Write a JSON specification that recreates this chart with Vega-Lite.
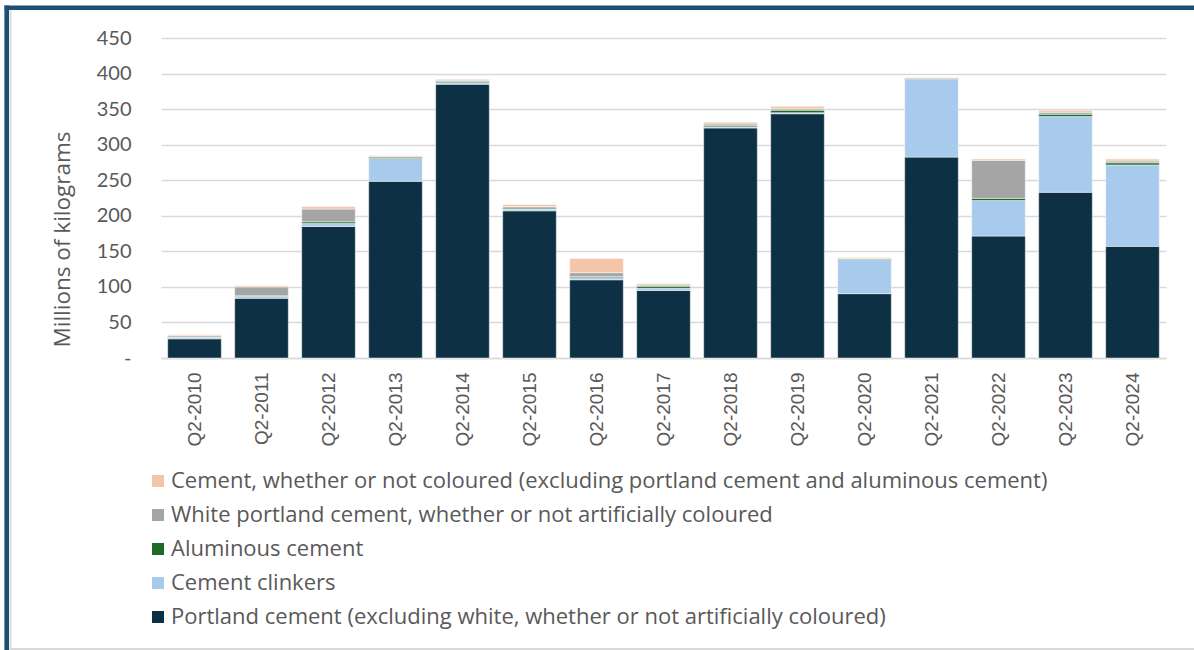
{
  "$schema": "https://vega.github.io/schema/vega-lite/v6.json",
  "autosize": {"type": "none"},
  "padding": {"left": 161, "top": 38, "right": 28, "bottom": 292},
  "width": 1005,
  "height": 320,
  "background": "#ffffff",
  "config": {
    "view": {"stroke": null},
    "font": "Lato"
  },
  "data": {
    "values": [
      {"quarter": "Q2-2010", "product": "Portland cement (excluding white, whether or not artificially coloured)", "kg": 27},
      {"quarter": "Q2-2010", "product": "Cement clinkers", "kg": 2},
      {"quarter": "Q2-2010", "product": "Aluminous cement", "kg": 0.3},
      {"quarter": "Q2-2010", "product": "White portland cement, whether or not artificially coloured", "kg": 2},
      {"quarter": "Q2-2010", "product": "Cement, whether or not coloured (excluding portland cement and aluminous cement)", "kg": 1.5},

      {"quarter": "Q2-2011", "product": "Portland cement (excluding white, whether or not artificially coloured)", "kg": 84},
      {"quarter": "Q2-2011", "product": "Cement clinkers", "kg": 2.5},
      {"quarter": "Q2-2011", "product": "Aluminous cement", "kg": 1},
      {"quarter": "Q2-2011", "product": "White portland cement, whether or not artificially coloured", "kg": 12.5},
      {"quarter": "Q2-2011", "product": "Cement, whether or not coloured (excluding portland cement and aluminous cement)", "kg": 1.5},

      {"quarter": "Q2-2012", "product": "Portland cement (excluding white, whether or not artificially coloured)", "kg": 185},
      {"quarter": "Q2-2012", "product": "Cement clinkers", "kg": 4},
      {"quarter": "Q2-2012", "product": "Aluminous cement", "kg": 2.5},
      {"quarter": "Q2-2012", "product": "White portland cement, whether or not artificially coloured", "kg": 18},
      {"quarter": "Q2-2012", "product": "Cement, whether or not coloured (excluding portland cement and aluminous cement)", "kg": 3.5},

      {"quarter": "Q2-2013", "product": "Portland cement (excluding white, whether or not artificially coloured)", "kg": 248.5},
      {"quarter": "Q2-2013", "product": "Cement clinkers", "kg": 32},
      {"quarter": "Q2-2013", "product": "Aluminous cement", "kg": 2},
      {"quarter": "Q2-2013", "product": "White portland cement, whether or not artificially coloured", "kg": 0.5},
      {"quarter": "Q2-2013", "product": "Cement, whether or not coloured (excluding portland cement and aluminous cement)", "kg": 1.5},

      {"quarter": "Q2-2014", "product": "Portland cement (excluding white, whether or not artificially coloured)", "kg": 385},
      {"quarter": "Q2-2014", "product": "Cement clinkers", "kg": 2},
      {"quarter": "Q2-2014", "product": "Aluminous cement", "kg": 1.5},
      {"quarter": "Q2-2014", "product": "White portland cement, whether or not artificially coloured", "kg": 2},
      {"quarter": "Q2-2014", "product": "Cement, whether or not coloured (excluding portland cement and aluminous cement)", "kg": 1.5},

      {"quarter": "Q2-2015", "product": "Portland cement (excluding white, whether or not artificially coloured)", "kg": 207},
      {"quarter": "Q2-2015", "product": "Cement clinkers", "kg": 2.5},
      {"quarter": "Q2-2015", "product": "Aluminous cement", "kg": 1.5},
      {"quarter": "Q2-2015", "product": "White portland cement, whether or not artificially coloured", "kg": 2},
      {"quarter": "Q2-2015", "product": "Cement, whether or not coloured (excluding portland cement and aluminous cement)", "kg": 3},

      {"quarter": "Q2-2016", "product": "Portland cement (excluding white, whether or not artificially coloured)", "kg": 110},
      {"quarter": "Q2-2016", "product": "Cement clinkers", "kg": 3},
      {"quarter": "Q2-2016", "product": "Aluminous cement", "kg": 1.5},
      {"quarter": "Q2-2016", "product": "White portland cement, whether or not artificially coloured", "kg": 5.5},
      {"quarter": "Q2-2016", "product": "Cement, whether or not coloured (excluding portland cement and aluminous cement)", "kg": 20},

      {"quarter": "Q2-2017", "product": "Portland cement (excluding white, whether or not artificially coloured)", "kg": 95},
      {"quarter": "Q2-2017", "product": "Cement clinkers", "kg": 3},
      {"quarter": "Q2-2017", "product": "Aluminous cement", "kg": 3},
      {"quarter": "Q2-2017", "product": "White portland cement, whether or not artificially coloured", "kg": 1.5},
      {"quarter": "Q2-2017", "product": "Cement, whether or not coloured (excluding portland cement and aluminous cement)", "kg": 2},

      {"quarter": "Q2-2018", "product": "Portland cement (excluding white, whether or not artificially coloured)", "kg": 323.5},
      {"quarter": "Q2-2018", "product": "Cement clinkers", "kg": 1.5},
      {"quarter": "Q2-2018", "product": "Aluminous cement", "kg": 1.5},
      {"quarter": "Q2-2018", "product": "White portland cement, whether or not artificially coloured", "kg": 2.5},
      {"quarter": "Q2-2018", "product": "Cement, whether or not coloured (excluding portland cement and aluminous cement)", "kg": 2.5},

      {"quarter": "Q2-2019", "product": "Portland cement (excluding white, whether or not artificially coloured)", "kg": 343.5},
      {"quarter": "Q2-2019", "product": "Cement clinkers", "kg": 1.5},
      {"quarter": "Q2-2019", "product": "Aluminous cement", "kg": 3.5},
      {"quarter": "Q2-2019", "product": "White portland cement, whether or not artificially coloured", "kg": 2},
      {"quarter": "Q2-2019", "product": "Cement, whether or not coloured (excluding portland cement and aluminous cement)", "kg": 3.5},

      {"quarter": "Q2-2020", "product": "Portland cement (excluding white, whether or not artificially coloured)", "kg": 90.5},
      {"quarter": "Q2-2020", "product": "Cement clinkers", "kg": 48},
      {"quarter": "Q2-2020", "product": "Aluminous cement", "kg": 1.5},
      {"quarter": "Q2-2020", "product": "White portland cement, whether or not artificially coloured", "kg": 0.3},
      {"quarter": "Q2-2020", "product": "Cement, whether or not coloured (excluding portland cement and aluminous cement)", "kg": 1.2},

      {"quarter": "Q2-2021", "product": "Portland cement (excluding white, whether or not artificially coloured)", "kg": 282.5},
      {"quarter": "Q2-2021", "product": "Cement clinkers", "kg": 109.5},
      {"quarter": "Q2-2021", "product": "Aluminous cement", "kg": 1.5},
      {"quarter": "Q2-2021", "product": "White portland cement, whether or not artificially coloured", "kg": 0.3},
      {"quarter": "Q2-2021", "product": "Cement, whether or not coloured (excluding portland cement and aluminous cement)", "kg": 0.7},

      {"quarter": "Q2-2022", "product": "Portland cement (excluding white, whether or not artificially coloured)", "kg": 171.5},
      {"quarter": "Q2-2022", "product": "Cement clinkers", "kg": 50},
      {"quarter": "Q2-2022", "product": "Aluminous cement", "kg": 3},
      {"quarter": "Q2-2022", "product": "White portland cement, whether or not artificially coloured", "kg": 53.5},
      {"quarter": "Q2-2022", "product": "Cement, whether or not coloured (excluding portland cement and aluminous cement)", "kg": 2},

      {"quarter": "Q2-2023", "product": "Portland cement (excluding white, whether or not artificially coloured)", "kg": 233},
      {"quarter": "Q2-2023", "product": "Cement clinkers", "kg": 106.5},
      {"quarter": "Q2-2023", "product": "Aluminous cement", "kg": 3.3},
      {"quarter": "Q2-2023", "product": "White portland cement, whether or not artificially coloured", "kg": 2.8},
      {"quarter": "Q2-2023", "product": "Cement, whether or not coloured (excluding portland cement and aluminous cement)", "kg": 2.8},

      {"quarter": "Q2-2024", "product": "Portland cement (excluding white, whether or not artificially coloured)", "kg": 157},
      {"quarter": "Q2-2024", "product": "Cement clinkers", "kg": 114.5},
      {"quarter": "Q2-2024", "product": "Aluminous cement", "kg": 3},
      {"quarter": "Q2-2024", "product": "White portland cement, whether or not artificially coloured", "kg": 2.4},
      {"quarter": "Q2-2024", "product": "Cement, whether or not coloured (excluding portland cement and aluminous cement)", "kg": 2.8}
    ]
  },
  "transform": [
    {
      "calculate": "indexof(['Portland cement (excluding white, whether or not artificially coloured)', 'Cement clinkers', 'Aluminous cement', 'White portland cement, whether or not artificially coloured', 'Cement, whether or not coloured (excluding portland cement and aluminous cement)'], datum.product)",
      "as": "stackRank"
    }
  ],
  "layer": [
    {
      "mark": {"type": "bar", "stroke": "#ffffff", "strokeWidth": 0.8, "strokeOpacity": 0.6},
      "encoding": {
        "x": {
          "field": "quarter",
          "type": "nominal",
          "scale": {"paddingInner": 0.2, "paddingOuter": 0.1},
          "axis": {
            "orient": "bottom",
            "title": null,
            "labelAngle": -90,
            "labelFont": "Liberation Sans",
            "labelFontSize": 19,
            "labelColor": "#595959",
            "labelPadding": 14,
            "ticks": false,
            "tickSize": 0,
            "domainColor": "#d9d9d9",
            "domainWidth": 1.5
          }
        },
        "y": {
          "field": "kg",
          "type": "quantitative",
          "aggregate": "sum",
          "stack": "zero",
          "scale": {"domain": [0, 450], "nice": false},
          "axis": {
            "orient": "left",
            "title": "Millions of kilograms",
            "titleFont": "Open Sans",
            "titleFontSize": 22.5,
            "titleFontWeight": "normal",
            "titleColor": "#595959",
            "titleAngle": -90,
            "titleAlign": "center",
            "titleBaseline": "middle",
            "titleX": -99,
            "titleY": 201,
            "values": [0, 50, 100, 150, 200, 250, 300, 350, 400, 450],
            "labelExpr": "datum.value == 0 ? '-' : datum.label",
            "labelFont": "Lato",
            "labelFontSize": 20,
            "labelColor": "#595959",
            "labelPadding": 30,
            "ticks": false,
            "tickSize": 0,
            "domain": false,
            "grid": true,
            "gridColor": "#d9d9d9",
            "gridWidth": 1.5
          }
        },
        "color": {
          "field": "product",
          "type": "nominal",
          "scale": {
            "domain": [
              "Cement, whether or not coloured (excluding portland cement and aluminous cement)",
              "White portland cement, whether or not artificially coloured",
              "Aluminous cement",
              "Cement clinkers",
              "Portland cement (excluding white, whether or not artificially coloured)"
            ],
            "range": ["#f4c5a8", "#a5a5a5", "#1e6b27", "#a8caec", "#0d3044"]
          },
          "legend": {
            "title": null,
            "orient": "none",
            "legendX": -14,
            "legendY": 432,
            "direction": "vertical",
            "padding": 0,
            "symbolType": "square",
            "symbolSize": 144,
            "symbolStrokeWidth": 0,
            "symbolOpacity": 1,
            "labelFont": "Open Sans",
            "labelFontSize": 22,
            "labelColor": "#595959",
            "labelOffset": 2,
            "labelLimit": 1000,
            "rowPadding": 12
          }
        },
        "order": {"field": "stackRank", "type": "quantitative", "sort": "ascending"}
      }
    },
    {
      "description": "Panel frame: dark top and left edges drawn as axis domain lines",
      "mark": {"type": "point", "opacity": 0},
      "encoding": {
        "x": {
          "field": "quarter",
          "type": "nominal",
          "scale": {"range": [-157, 1033]},
          "axis": {
            "orient": "top",
            "offset": 30.8,
            "title": null,
            "labels": false,
            "ticks": false,
            "grid": false,
            "domain": true,
            "domainColor": "#1d5070",
            "domainWidth": 4.6
          }
        },
        "y": {
          "field": "kg",
          "type": "quantitative",
          "scale": {"range": [612, -33]},
          "axis": {
            "orient": "left",
            "offset": 154.8,
            "title": null,
            "labels": false,
            "ticks": false,
            "grid": false,
            "domain": true,
            "domainColor": "#1d5070",
            "domainWidth": 4.6
          }
        }
      }
    },
    {
      "description": "Panel frame: light inner left edge and bottom edge",
      "mark": {"type": "point", "opacity": 0},
      "encoding": {
        "x": {
          "field": "quarter",
          "type": "nominal",
          "scale": {"range": [-152, 1033]},
          "axis": {
            "orient": "bottom",
            "offset": 290.5,
            "title": null,
            "labels": false,
            "ticks": false,
            "grid": false,
            "domain": true,
            "domainColor": "#d9d9d9",
            "domainWidth": 2
          }
        },
        "y": {
          "field": "kg",
          "type": "quantitative",
          "scale": {"range": [612, -28]},
          "axis": {
            "orient": "left",
            "offset": 151,
            "title": null,
            "labels": false,
            "ticks": false,
            "grid": false,
            "domain": true,
            "domainColor": "#dcdcdc",
            "domainWidth": 2
          }
        }
      }
    }
  ],
  "resolve": {
    "scale": {"x": "independent", "y": "independent"},
    "axis": {"x": "independent", "y": "independent"}
  }
}
